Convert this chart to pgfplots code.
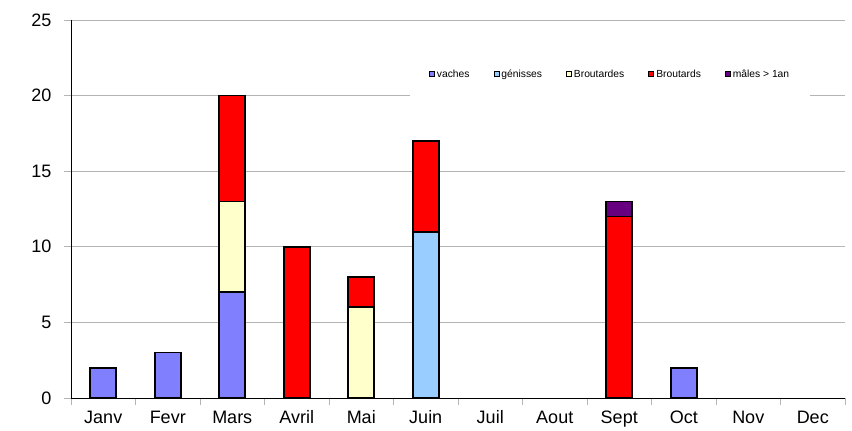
\documentclass[border=0pt]{standalone}
\usepackage{pgfplots}
\pgfplotsset{compat=1.18}
\usepackage{fontspec}
\setmainfont{Liberation Sans}
\definecolor{cvaches}{HTML}{8080FF}
\definecolor{cgen}{HTML}{99CCFF}
\definecolor{cbrtes}{HTML}{FFFFCC}
\definecolor{cbrts}{HTML}{FF0000}
\definecolor{cmales}{HTML}{660080}
\definecolor{gridc}{HTML}{B4B4B4}
\begin{document}
\begin{tikzpicture}[x=1pt,y=1pt]
\path[use as bounding box] (-71,-33) rectangle (781,398);
\begin{axis}[
  at={(0,0)}, anchor=south west,
  scale only axis, width=774pt, height=378pt,
  xmin=-0.5, xmax=11.5, ymin=0, ymax=25,
  axis x line*=bottom, axis y line*=left,
  axis line style={black, line width=0.8pt, -},
  xtick={0,...,11},
  xticklabels={Janv,Fevr,Mars,Avril,Mai,Juin,Juil,Aout,Sept,Oct,Nov,Dec},
  major x tick style={draw=none},
  minor xtick={-0.5,0.5,...,11.5},
  minor tick length=7pt,
  minor x tick style={gridc, line width=0.8pt},
  ytick={0,5,...,25},
  major tick length=7pt,
  tick align=outside,
  y tick style={gridc, line width=0.8pt},
  ymajorgrids, grid style={gridc, line width=0.8pt},
  ticklabel style={font=\fontsize{18}{21}\selectfont},
  /pgf/number format/assume math mode=true,
  xticklabel style={yshift=-2pt, text height=13pt, text depth=0pt},
  yticklabel style={xshift=-9pt},
  bar width=26pt,
  every axis plot/.append style={line width=1.7pt},
  legend columns=5,
  legend style={draw=none, fill=white, at={(0.6965,0.857)}, anchor=center,
    font=\fontsize{10.3}{12}\selectfont, inner xsep=19pt, inner ysep=19pt,
    /tikz/every even column/.append style={column sep=22pt}},
  legend cell align=left,
  legend image code/.code={\draw[#1, draw=black, line width=0.9pt] (0pt,-2.5pt) rectangle (5pt,2.5pt);},
]
\addlegendimage{fill=cvaches}
\addlegendentry{vaches}
\addlegendimage{fill=cgen}
\addlegendentry{génisses}
\addlegendimage{fill=cbrtes}
\addlegendentry{Broutardes}
\addlegendimage{fill=cbrts}
\addlegendentry{Broutards}
\addlegendimage{fill=cmales}
\addlegendentry{mâles > 1an}
% cumulative tops of each stacked segment, drawn from the top segment down
\addplot[ybar, bar shift=0pt, fill=cmales, draw=black, forget plot]
  coordinates {(8,13)};
\addplot[ybar, bar shift=0pt, fill=cbrts, draw=black, forget plot]
  coordinates {(2,20) (3,10) (4,8) (5,17) (8,12)};
\addplot[ybar, bar shift=0pt, fill=cbrtes, draw=black, forget plot]
  coordinates {(2,13) (4,6)};
\addplot[ybar, bar shift=0pt, fill=cgen, draw=black, forget plot]
  coordinates {(5,11)};
\addplot[ybar, bar shift=0pt, fill=cvaches, draw=black, forget plot]
  coordinates {(0,2) (1,3) (2,7) (9,2)};
\end{axis}
\end{tikzpicture}
\end{document}
